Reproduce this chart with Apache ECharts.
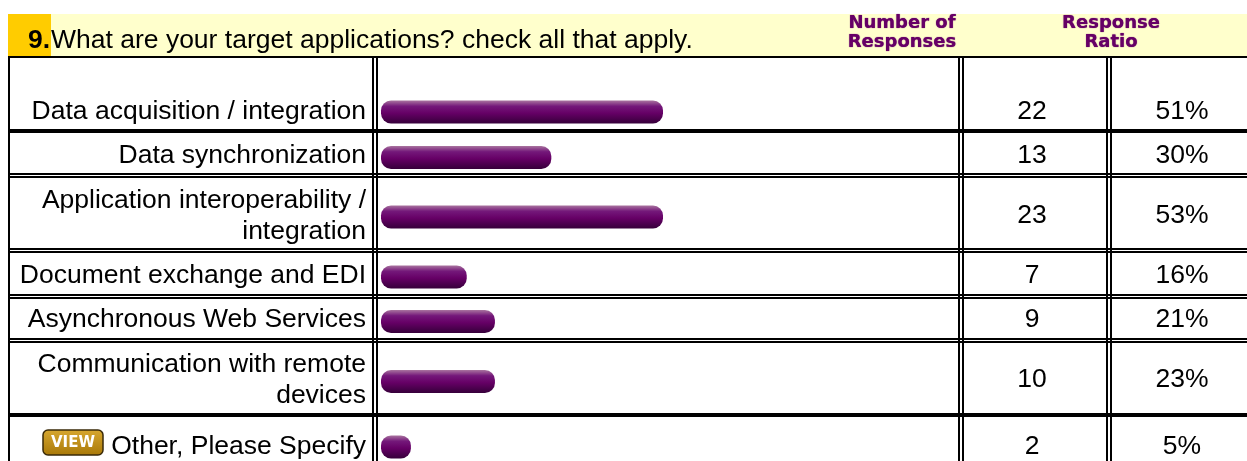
<!DOCTYPE html>
<html>
<head>
<meta charset="utf-8">
<style>html,body{margin:0;padding:0;background:#fff;}#chart{width:1247px;height:461px;}</style>
<script src="https://cdn.jsdelivr.net/npm/echarts@6/dist/echarts.min.js"></script>
</head>
<body>
<div id="chart"></div>
<script>
// values
const categories = ['Data acquisition / integration', 'Data synchronization', 'Application interoperability /\nintegration', 'Document exchange and EDI', 'Asynchronous Web Services', 'Communication with remote\ndevices', 'Other, Please Specify'];
const counts = [22, 13, 23, 7, 9, 10, 2];
const ratios = ['51%', '30%', '53%', '16%', '21%', '23%', '5%'];
// bar lengths as drawn, the survey snaps them to about 5% steps so they are not the ratio itself
const barValues = [50, 30.2, 50, 15.2, 20.2, 20.2, 5.3];
const questionNo = '9.';
const question = 'What are your target applications? check all that apply.';

// layout
const rowCenter = [112, 157.5, 217, 277, 321.5, 381.5, 447];
const labelCenter = [112, 156, 216.5, 276, 320, 380.5, 446.5];
const numberCenter = [112, 155.5, 216, 276, 319.5, 379.5, 447];
const barH = 23;
const fontSize = 26.5;
const font = '"Liberation Sans", Arial, sans-serif';
const purple = new echarts.graphic.LinearGradient(0, 0, 0, 1, [
  { offset: 0, color: '#a9749f' },
  { offset: 0.25, color: '#74187a' },
  { offset: 0.55, color: '#660066' },
  { offset: 1, color: '#36003a' }
]);

const rect = (x, y, width, height, fill) => ({ type: 'rect', silent: true, z: 1, shape: { x, y, width, height }, style: { fill } });
const text = (x, y, t, o) => ({ type: 'text', silent: true, z: 5, x, y, style: Object.assign({ text: t, fill: '#000', font: fontSize + 'px ' + font, textAlign: 'center', textVerticalAlign: 'middle' }, o) });
const headStyle = { fill: '#660066', font: 'bold 18px "DejaVu Sans", sans-serif', lineHeight: 19, textShadowColor: '#660066', textShadowBlur: 1 };

const graphics = [
  rect(8, 14, 1239, 42, '#ffffcc'),
  rect(8, 14, 43, 42, '#ffcc00'),
  text(50, 41, questionNo, { font: 'bold ' + fontSize + 'px ' + font, textAlign: 'right' }),
  text(51, 41, question, { textAlign: 'left' }),
  text(902, 33, 'Number of\nResponses', headStyle),
  text(1111, 33, 'Response\nRatio', headStyle),
  // table rules
  rect(8, 56, 1239, 2, '#000'),
  rect(8, 129, 1239, 4, '#000'),
  rect(8, 173, 1239, 2, '#000'), rect(8, 176, 1239, 2, '#000'),
  rect(8, 248, 1239, 2, '#000'), rect(8, 251, 1239, 2, '#000'),
  rect(8, 294, 1239, 2, '#000'), rect(8, 297, 1239, 2, '#000'),
  rect(8, 338, 1239, 2, '#000'), rect(8, 341, 1239, 2, '#000'),
  rect(8, 413, 1239, 4, '#000'),
  rect(8, 56, 2, 405, '#000'),
  rect(372, 56, 2, 405, '#000'), rect(376, 56, 2, 405, '#000'),
  rect(958, 56, 2, 405, '#000'), rect(962, 56, 2, 405, '#000'),
  rect(1106, 56, 2, 405, '#000'), rect(1110, 56, 2, 405, '#000'),
  // VIEW button of the last row
  { type: 'rect', silent: true, z: 4, shape: { x: 43, y: 430, width: 60, height: 25, r: 5 },
    style: { fill: new echarts.graphic.LinearGradient(0, 0, 0, 1, [{ offset: 0, color: '#d8a830' }, { offset: 1, color: '#a87808' }]), stroke: '#3a2a08', lineWidth: 1.5 } },
  text(73, 443, 'VIEW', { fill: '#fff', font: 'bold 15px "DejaVu Sans", sans-serif' })
];

categories.forEach((c, i) => {
  graphics.push(text(366, labelCenter[i], c, { textAlign: 'right', lineHeight: 31 }));
  graphics.push(text(1032, numberCenter[i], String(counts[i])));
  graphics.push(text(1182, numberCenter[i], ratios[i]));
});

const grids = [], xAxes = [], yAxes = [], series = [];
categories.forEach((c, i) => {
  grids.push({ left: 381, width: 564, top: rowCenter[i] - barH / 2, height: barH });
  xAxes.push({ gridIndex: i, type: 'value', min: 0, max: 100, show: false });
  yAxes.push({ gridIndex: i, type: 'category', data: [c], show: false });
  series.push({
    type: 'bar', xAxisIndex: i, yAxisIndex: i, data: [barValues[i]], barWidth: barH,
    silent: true, animation: false, z: 3,
    itemStyle: { color: purple, borderRadius: 10 }
  });
});

const chart = echarts.init(document.getElementById('chart'));
chart.setOption({
  animation: false,
  backgroundColor: '#fff',
  grid: grids, xAxis: xAxes, yAxis: yAxes, series,
  graphic: graphics
});
</script>
</body>
</html>
